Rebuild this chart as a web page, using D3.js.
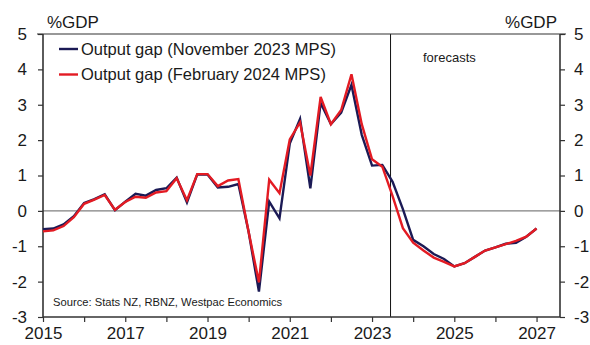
<!DOCTYPE html>
<html>
<head>
<meta charset="utf-8">
<script src="https://cdn.jsdelivr.net/npm/d3@7"></script>
<style>
  html, body { margin: 0; padding: 0; background: #fff; }
  svg { display: block; font-family: "Liberation Sans", Arial, sans-serif; }
</style>
</head>
<body>
<svg id="chart" width="590" height="345"></svg>
<script>
// Quarterly output gap estimates (% of GDP), starting 2015 Q1
const startYear = 2015;
const novemberMPS = [
  -0.52, -0.5, -0.38, -0.15, 0.22, 0.33, 0.47, 0.02,
  0.26, 0.48, 0.43, 0.59, 0.64, 0.94, 0.24, 1.03,
  1.03, 0.66, 0.68, 0.76, -0.6, -2.28, 0.26, -0.21,
  1.9, 2.6, 0.64, 3.05, 2.45, 2.78, 3.56, 2.15,
  1.28, 1.3, 0.82, 0.05, -0.82, -1.0, -1.22, -1.36,
  -1.57, -1.48, -1.3, -1.12, -1.03, -0.93, -0.9, -0.73,
  -0.5
];
const februaryMPS = [
  -0.58, -0.55, -0.43, -0.18, 0.2, 0.32, 0.45, 0.03,
  0.25, 0.4, 0.37, 0.52, 0.56, 0.92, 0.3, 1.04,
  1.04, 0.7, 0.86, 0.9, -0.6, -2.02, 0.88, 0.5,
  2.02, 2.5, 1.0, 3.22, 2.45, 2.85, 3.86, 2.45,
  1.46, 1.25, 0.42, -0.49, -0.9, -1.12, -1.32, -1.44,
  -1.57, -1.48, -1.3, -1.12, -1.03, -0.94, -0.85, -0.73,
  -0.5
];
const seriesNames = ["Output gap (November 2023 MPS)", "Output gap (February 2024 MPS)"];
const seriesColors = ["#1b1a55", "#e31b23"];
const yTicks = [-3, -2, -1, 0, 1, 2, 3, 4, 5];
const xLabelYears = [2015, 2017, 2019, 2021, 2023, 2025, 2027];
const xMinorYears = d3.range(2015, 2028);
const forecastStart = 2023.45;

const svg = d3.select("#chart");
const plotLeft = 43, plotRight = 560, plotTop = 34, plotBottom = 317;

const x = d3.scaleLinear().domain([2015, 2027.57]).range([plotLeft, plotRight]);
const y = d3.scaleLinear().domain([-3, 5]).range([plotBottom, plotTop]);

const axisColor = "#333";
const textColor = "#1a1a1a";
const plainNumber = d => String(d);

// zero line
svg.append("line")
  .attr("x1", plotLeft).attr("x2", plotRight)
  .attr("y1", y(0)).attr("y2", y(0))
  .attr("stroke", "#808080").attr("stroke-width", 1.2);

// forecast divider
svg.append("line")
  .attr("x1", x(forecastStart)).attr("x2", x(forecastStart))
  .attr("y1", plotTop).attr("y2", plotBottom)
  .attr("stroke", "#111").attr("stroke-width", 1);

svg.append("text")
  .attr("x", 423).attr("y", 62)
  .attr("font-size", 13).attr("fill", textColor)
  .text("forecasts");

// axes
const leftAxis = d3.axisLeft(y).tickValues(yTicks).tickSize(5).tickFormat(plainNumber);
const rightAxis = d3.axisRight(y).tickValues(yTicks).tickSize(5).tickFormat(plainNumber);
const bottomAxis = d3.axisBottom(x).tickValues(xMinorYears).tickSize(5)
  .tickFormat(d => xLabelYears.includes(d) ? String(d) : "");

function styleAxis(g) {
  g.select(".domain").attr("stroke", axisColor).attr("stroke-width", 1.6);
  g.selectAll(".tick line").attr("stroke", axisColor).attr("stroke-width", 1.2);
  g.selectAll(".tick text").attr("fill", textColor)
    .attr("font-size", 17).attr("font-family", "Liberation Sans, Arial, sans-serif");
}

svg.append("g").attr("transform", `translate(${plotLeft},0)`).call(leftAxis)
  .call(g => g.select(".domain").attr("d", `M0,${plotTop}V${plotBottom}`))
  .call(styleAxis)
  .call(g => g.selectAll(".tick text").attr("x", -16));

svg.append("g").attr("transform", `translate(${plotRight},0)`).call(rightAxis)
  .call(g => g.select(".domain").attr("d", `M0,${plotTop}V${plotBottom}`))
  .call(styleAxis)
  .call(g => g.selectAll(".tick text").attr("x", 14));

svg.append("g").attr("transform", `translate(0,${plotBottom})`).call(bottomAxis)
  .call(g => g.select(".domain").attr("d", `M${plotLeft},0H${plotRight}`))
  .call(styleAxis)
  .call(g => g.selectAll(".tick text").attr("y", 10));

// top frame line
svg.append("line")
  .attr("x1", plotLeft - 6).attr("x2", plotRight + 6)
  .attr("y1", plotTop).attr("y2", plotTop)
  .attr("stroke", axisColor).attr("stroke-width", 1.2);

// unit labels
svg.append("text").attr("x", 47).attr("y", 28)
  .attr("font-size", 17).attr("fill", textColor).text("%GDP");
svg.append("text").attr("x", 557).attr("y", 28).attr("text-anchor", "end")
  .attr("font-size", 17).attr("fill", textColor).text("%GDP");

// series lines
const line = d3.line()
  .x((d, i) => x(startYear + i * 0.25))
  .y(d => y(d));

[novemberMPS, februaryMPS].forEach((vals, k) => {
  svg.append("path")
    .datum(vals)
    .attr("fill", "none")
    .attr("stroke", seriesColors[k])
    .attr("stroke-width", 2.4)
    .attr("stroke-linejoin", "miter")
    .attr("d", line);
});

// legend
const legend = svg.append("g");
seriesNames.forEach((name, k) => {
  const ly = 49 + k * 25.5;
  legend.append("line")
    .attr("x1", 59).attr("x2", 78)
    .attr("y1", ly).attr("y2", ly)
    .attr("stroke", seriesColors[k]).attr("stroke-width", 2.4);
  legend.append("text")
    .attr("x", 81).attr("y", ly + 5.8)
    .attr("font-size", 16.5).attr("fill", textColor)
    .text(name);
});

// source note
svg.append("text").attr("x", 53).attr("y", 306)
  .attr("font-size", 11.2).attr("fill", textColor)
  .text("Source: Stats NZ, RBNZ, Westpac Economics");
</script>
</body>
</html>
